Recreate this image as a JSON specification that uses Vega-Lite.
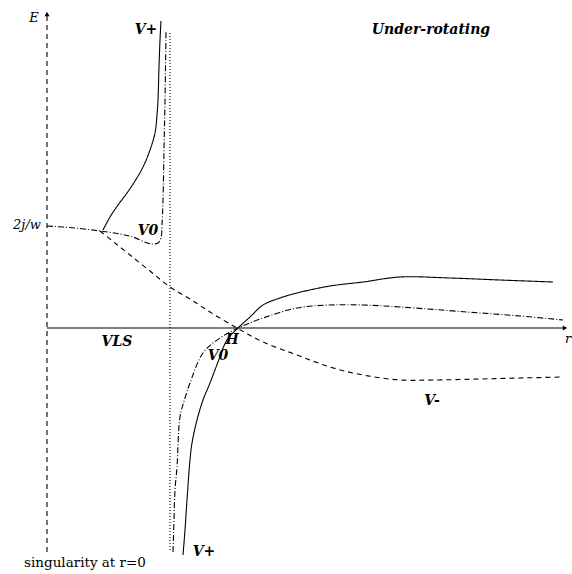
{
  "$schema": "https://vega.github.io/schema/vega-lite/v6.json",
  "width": 572,
  "height": 574,
  "padding": 0,
  "autosize": {"type": "none"},
  "background": "white",
  "config": {"view": {"stroke": null}},
  "datasets": {
    "curves": [
      {"curve": "yaxis", "style": "dashed", "o": 0, "r": 47, "E": -224},
      {"curve": "yaxis", "style": "dashed", "o": 1, "r": 47, "E": 314},
      {"curve": "xaxis", "style": "solid", "o": 0, "r": 47, "E": 0},
      {"curve": "xaxis", "style": "solid", "o": 1, "r": 564, "E": 0},
      {"curve": "VLS", "style": "dotted", "o": 0, "r": 170, "E": 295},
      {"curve": "VLS", "style": "dotted", "o": 1, "r": 170, "E": -224},

      {"curve": "Vplus_up", "style": "solid", "o": 0, "r": 103, "E": 98},
      {"curve": "Vplus_up", "style": "solid", "o": 1, "r": 110, "E": 111},
      {"curve": "Vplus_up", "style": "solid", "o": 2, "r": 118, "E": 123},
      {"curve": "Vplus_up", "style": "solid", "o": 3, "r": 127, "E": 135},
      {"curve": "Vplus_up", "style": "solid", "o": 4, "r": 135, "E": 147},
      {"curve": "Vplus_up", "style": "solid", "o": 5, "r": 143, "E": 161},
      {"curve": "Vplus_up", "style": "solid", "o": 6, "r": 150, "E": 178},
      {"curve": "Vplus_up", "style": "solid", "o": 7, "r": 155, "E": 195},
      {"curve": "Vplus_up", "style": "solid", "o": 8, "r": 157, "E": 213},
      {"curve": "Vplus_up", "style": "solid", "o": 9, "r": 158, "E": 228},
      {"curve": "Vplus_up", "style": "solid", "o": 10, "r": 159, "E": 261},
      {"curve": "Vplus_up", "style": "solid", "o": 11, "r": 160, "E": 288},
      {"curve": "Vplus_up", "style": "solid", "o": 12, "r": 161, "E": 307},

      {"curve": "V0_up", "style": "dashdot", "o": 0, "r": 47, "E": 102},
      {"curve": "V0_up", "style": "dashdot", "o": 1, "r": 75, "E": 100},
      {"curve": "V0_up", "style": "dashdot", "o": 2, "r": 100, "E": 97},
      {"curve": "V0_up", "style": "dashdot", "o": 3, "r": 120, "E": 94},
      {"curve": "V0_up", "style": "dashdot", "o": 4, "r": 133, "E": 91},
      {"curve": "V0_up", "style": "dashdot", "o": 5, "r": 147, "E": 85},
      {"curve": "V0_up", "style": "dashdot", "o": 6, "r": 152, "E": 84},
      {"curve": "V0_up", "style": "dashdot", "o": 7, "r": 158, "E": 85},
      {"curve": "V0_up", "style": "dashdot", "o": 8, "r": 161, "E": 90},
      {"curve": "V0_up", "style": "dashdot", "o": 9, "r": 162, "E": 103},
      {"curve": "V0_up", "style": "dashdot", "o": 10, "r": 163, "E": 128},
      {"curve": "V0_up", "style": "dashdot", "o": 11, "r": 164, "E": 178},
      {"curve": "V0_up", "style": "dashdot", "o": 12, "r": 165, "E": 228},
      {"curve": "V0_up", "style": "dashdot", "o": 13, "r": 166, "E": 296},

      {"curve": "Vminus", "style": "dashed", "o": 0, "r": 100, "E": 97},
      {"curve": "Vminus", "style": "dashed", "o": 1, "r": 115, "E": 85},
      {"curve": "Vminus", "style": "dashed", "o": 2, "r": 130, "E": 73},
      {"curve": "Vminus", "style": "dashed", "o": 3, "r": 150, "E": 57},
      {"curve": "Vminus", "style": "dashed", "o": 4, "r": 170, "E": 41},
      {"curve": "Vminus", "style": "dashed", "o": 5, "r": 190, "E": 29},
      {"curve": "Vminus", "style": "dashed", "o": 6, "r": 210, "E": 16},
      {"curve": "Vminus", "style": "dashed", "o": 7, "r": 237, "E": 0},
      {"curve": "Vminus", "style": "dashed", "o": 8, "r": 263, "E": -14},
      {"curve": "Vminus", "style": "dashed", "o": 9, "r": 297, "E": -27},
      {"curve": "Vminus", "style": "dashed", "o": 10, "r": 330, "E": -39},
      {"curve": "Vminus", "style": "dashed", "o": 11, "r": 363, "E": -47},
      {"curve": "Vminus", "style": "dashed", "o": 12, "r": 400, "E": -52},
      {"curve": "Vminus", "style": "dashed", "o": 13, "r": 433, "E": -52},
      {"curve": "Vminus", "style": "dashed", "o": 14, "r": 480, "E": -51},
      {"curve": "Vminus", "style": "dashed", "o": 15, "r": 520, "E": -50},
      {"curve": "Vminus", "style": "dashed", "o": 16, "r": 562, "E": -49},

      {"curve": "Vplus_low", "style": "solid", "o": 0, "r": 183, "E": -227},
      {"curve": "Vplus_low", "style": "solid", "o": 1, "r": 185, "E": -202},
      {"curve": "Vplus_low", "style": "solid", "o": 2, "r": 187, "E": -172},
      {"curve": "Vplus_low", "style": "solid", "o": 3, "r": 190, "E": -132},
      {"curve": "Vplus_low", "style": "solid", "o": 4, "r": 192, "E": -115},
      {"curve": "Vplus_low", "style": "solid", "o": 5, "r": 197, "E": -92},
      {"curve": "Vplus_low", "style": "solid", "o": 6, "r": 203, "E": -72},
      {"curve": "Vplus_low", "style": "solid", "o": 7, "r": 210, "E": -55},
      {"curve": "Vplus_low", "style": "solid", "o": 8, "r": 218, "E": -34},
      {"curve": "Vplus_low", "style": "solid", "o": 9, "r": 227, "E": -12},
      {"curve": "Vplus_low", "style": "solid", "o": 10, "r": 238, "E": 0},
      {"curve": "Vplus_low", "style": "solid", "o": 11, "r": 250, "E": 11},
      {"curve": "Vplus_low", "style": "solid", "o": 12, "r": 263, "E": 23},
      {"curve": "Vplus_low", "style": "solid", "o": 13, "r": 280, "E": 30},
      {"curve": "Vplus_low", "style": "solid", "o": 14, "r": 297, "E": 35},
      {"curve": "Vplus_low", "style": "solid", "o": 15, "r": 330, "E": 42},
      {"curve": "Vplus_low", "style": "solid", "o": 16, "r": 363, "E": 46},
      {"curve": "Vplus_low", "style": "solid", "o": 17, "r": 400, "E": 51},
      {"curve": "Vplus_low", "style": "solid", "o": 18, "r": 450, "E": 50},
      {"curve": "Vplus_low", "style": "solid", "o": 19, "r": 500, "E": 48},
      {"curve": "Vplus_low", "style": "solid", "o": 20, "r": 553, "E": 46},

      {"curve": "V0_low", "style": "dashdot", "o": 0, "r": 173, "E": -224},
      {"curve": "V0_low", "style": "dashdot", "o": 1, "r": 174, "E": -192},
      {"curve": "V0_low", "style": "dashdot", "o": 2, "r": 175, "E": -162},
      {"curve": "V0_low", "style": "dashdot", "o": 3, "r": 177, "E": -139},
      {"curve": "V0_low", "style": "dashdot", "o": 4, "r": 180, "E": -89},
      {"curve": "V0_low", "style": "dashdot", "o": 5, "r": 185, "E": -70},
      {"curve": "V0_low", "style": "dashdot", "o": 6, "r": 190, "E": -55},
      {"curve": "V0_low", "style": "dashdot", "o": 7, "r": 203, "E": -25},
      {"curve": "V0_low", "style": "dashdot", "o": 8, "r": 220, "E": -10},
      {"curve": "V0_low", "style": "dashdot", "o": 9, "r": 238, "E": 0},
      {"curve": "V0_low", "style": "dashdot", "o": 10, "r": 263, "E": 10},
      {"curve": "V0_low", "style": "dashdot", "o": 11, "r": 297, "E": 20},
      {"curve": "V0_low", "style": "dashdot", "o": 12, "r": 330, "E": 23},
      {"curve": "V0_low", "style": "dashdot", "o": 13, "r": 363, "E": 23},
      {"curve": "V0_low", "style": "dashdot", "o": 14, "r": 400, "E": 21},
      {"curve": "V0_low", "style": "dashdot", "o": 15, "r": 467, "E": 16},
      {"curve": "V0_low", "style": "dashdot", "o": 16, "r": 520, "E": 12},
      {"curve": "V0_low", "style": "dashdot", "o": 17, "r": 563, "E": 8}
    ],
    "arrows": [
      {"r": 47, "E": 314, "shape": "triangle-up"},
      {"r": 565, "E": 0, "shape": "triangle-right"}
    ],
    "boldLabels": [
      {"r": 146, "E": 298, "label": "V+"},
      {"r": 431, "E": 298, "label": "Under-rotating"},
      {"r": 148, "E": 97, "label": "V0"},
      {"r": 117, "E": -14, "label": "VLS"},
      {"r": 232, "E": -12, "label": "H"},
      {"r": 218, "E": -28, "label": "V0"},
      {"r": 432, "E": -73, "label": "V-"},
      {"r": 204, "E": -224, "label": "V+"}
    ],
    "italicLabels": [
      {"r": 34, "E": 310, "label": "E"},
      {"r": 27, "E": 103, "label": "2j/w"},
      {"r": 568, "E": -11, "label": "r"}
    ],
    "plainLabels": [
      {"r": 85, "E": -235, "label": "singularity at r=0"}
    ]
  },
  "layer": [
    {
      "data": {"name": "curves"},
      "mark": {"type": "line", "color": "black", "strokeWidth": 1.1, "interpolate": "catmull-rom"},
      "encoding": {
        "x": {"field": "r", "type": "quantitative", "scale": {"domain": [0, 572], "nice": false, "zero": false}, "axis": null},
        "y": {"field": "E", "type": "quantitative", "scale": {"domain": [-246, 328], "nice": false, "zero": false}, "axis": null},
        "detail": {"field": "curve"},
        "order": {"field": "o", "type": "quantitative"},
        "strokeDash": {
          "field": "style",
          "type": "nominal",
          "scale": {"domain": ["solid", "dashed", "dashdot", "dotted"], "range": [[1, 0], [5, 4], [6, 2, 1, 2], [1, 2]]},
          "legend": null
        }
      }
    },
    {
      "data": {"name": "arrows"},
      "mark": {"type": "point", "filled": true, "color": "black", "size": 25, "opacity": 1},
      "encoding": {
        "x": {"field": "r", "type": "quantitative"},
        "y": {"field": "E", "type": "quantitative"},
        "shape": {"field": "shape", "type": "nominal", "scale": null}
      }
    },
    {
      "data": {"name": "boldLabels"},
      "mark": {"type": "text", "font": "DejaVu Serif", "fontStyle": "italic", "fontWeight": "bold", "fontSize": 14, "color": "black"},
      "encoding": {
        "x": {"field": "r", "type": "quantitative"},
        "y": {"field": "E", "type": "quantitative"},
        "text": {"field": "label"}
      }
    },
    {
      "data": {"name": "italicLabels"},
      "mark": {"type": "text", "font": "DejaVu Serif", "fontStyle": "italic", "fontSize": 13, "color": "black"},
      "encoding": {
        "x": {"field": "r", "type": "quantitative"},
        "y": {"field": "E", "type": "quantitative"},
        "text": {"field": "label"}
      }
    },
    {
      "data": {"name": "plainLabels"},
      "mark": {"type": "text", "font": "DejaVu Serif", "fontSize": 13.5, "color": "black"},
      "encoding": {
        "x": {"field": "r", "type": "quantitative"},
        "y": {"field": "E", "type": "quantitative"},
        "text": {"field": "label"}
      }
    }
  ]
}
